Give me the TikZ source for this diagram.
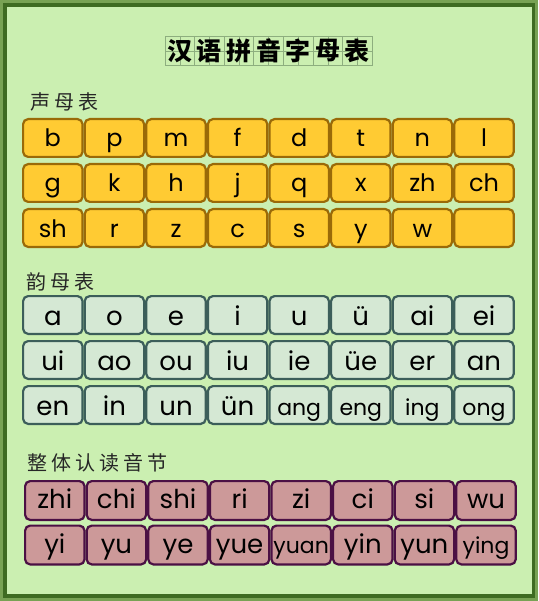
\documentclass[tikz,border=0pt]{standalone}
\usepackage{fontspec}
\setmainfont{Poppins}
\newfontfamily\cjk[LetterSpace=20]{Noto Sans CJK SC}
\newfontfamily\cjktitle{Noto Sans CJK SC}
\newcommand\smallpy[1]{{\fontsize{22}{22}\selectfont #1}}

\definecolor{paper}{HTML}{CBEFB1}
\definecolor{framedark}{HTML}{3E6B22}
\definecolor{framemid}{HTML}{78A254}
\definecolor{smfill}{HTML}{FFCB33}
\definecolor{smline}{HTML}{9A6A08}
\definecolor{ymfill}{HTML}{D5E8D4}
\definecolor{ymline}{HTML}{3C5E5A}
\definecolor{ztfill}{HTML}{CC9999}
\definecolor{ztline}{HTML}{4B1044}
\definecolor{gridline}{HTML}{8DAE7E}

\tikzset{
    card/.style={rectangle, rounded corners=5pt, line width=2.2pt, inner sep=0pt,
        minimum width=59.4pt, minimum height=37.8pt, text depth=0pt},
    smcard/.style={card, draw=smline, fill=smfill, text height=18pt,
        font=\fontsize{24}{24}\selectfont},
    ymcard/.style={card, draw=ymline, fill=ymfill, text height=20pt,
        font=\fontsize{26}{26}\selectfont},
    ztcard/.style={card, draw=ztline, fill=ztfill, text height=16pt,
        minimum height=38.8pt, font=\fontsize{26}{26}\selectfont},
    titlebox/.style={draw=gridline, line width=0.8pt, minimum size=29.6pt, inner sep=0pt,
        font=\cjktitle\bfseries\fontsize{25}{25}\selectfont},
    sectlabel/.style={anchor=west, inner sep=0pt, text=black!85,
        font=\cjk\fontsize{20}{20}\selectfont}
}

\begin{document}
\begin{tikzpicture}[x=1pt, y=-1pt]
    \useasboundingbox (0,0) rectangle (538,601);
    \fill[framemid] (0,0) rectangle (538,601);
    \fill[framedark] (3,3) rectangle (535,598);
    \fill[paper] (7,7) rectangle (532,594);

    % title in grid squares
    \foreach \c [count=\i from 0] in {汉,语,拼,音,字,母,表} {
        \pgfmathsetmacro\x{179.8+29.6*\i}
        \draw[gridline, line width=0.6pt] (\x,36) -- (\x,66) (\x-14.8,51) -- (\x+14.8,51);
        \node[titlebox] (title-\i) at (\x,51) {\c};
    }

    \node[sectlabel] (sm-label) at (30,102) {声母表};
    \node[sectlabel] (ym-label) at (26,282) {韵母表};
    \node[sectlabel] (zt-label) at (27,463) {整体认读音节};

    % shengmu
    \foreach \s [count=\i from 0] in {b,p,m,f,d,t,n,l,g,k,h,j,q,x,zh,ch,sh,r,z,c,s,y,w,{}} {
        \pgfmathtruncatemacro\row{\i/8}
        \pgfmathtruncatemacro\col{mod(\i,8)}
        \node[smcard] (sm-\row-\col) at ({52.8+61.6*\col},{138+45*\row}) {\s};
    }

    % yunmu
    \foreach \s [count=\i from 0] in {a,o,e,i,u,ü,ai,ei,ui,ao,ou,iu,ie,üe,er,an,
            en,in,un,ün,\smallpy{ang},\smallpy{eng},\smallpy{ing},\smallpy{ong}} {
        \pgfmathtruncatemacro\row{\i/8}
        \pgfmathtruncatemacro\col{mod(\i,8)}
        \node[ymcard] (ym-\row-\col) at ({52.8+61.6*\col},{315+45*\row}) {\s};
    }

    % zhengti renduyinjie
    \foreach \s [count=\i from 0] in {zhi,chi,shi,ri,zi,ci,si,wu,
            yi,yu,ye,yue,\smallpy{yuan},yin,yun,\smallpy{ying}} {
        \pgfmathtruncatemacro\row{\i/8}
        \pgfmathtruncatemacro\col{mod(\i,8)}
        \node[ztcard] (zt-\row-\col) at ({54.8+61.6*\col},{500.5+44.5*\row}) {\s};
    }
\end{tikzpicture}
\end{document}
